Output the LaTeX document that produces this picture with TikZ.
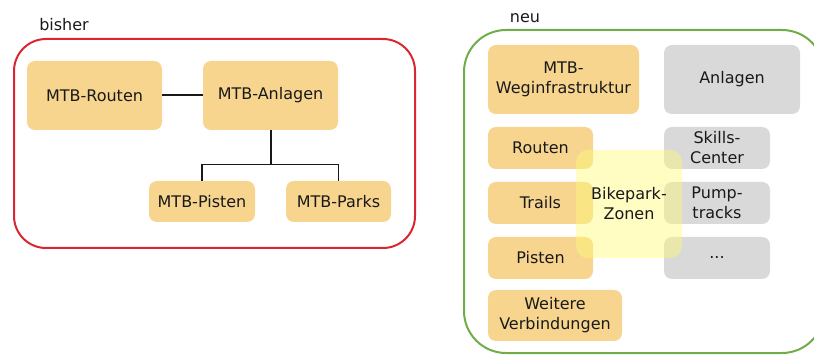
\documentclass[tikz,border=0pt]{standalone}
\usepackage{fontspec}
\setmainfont{DejaVu Sans}
\usepackage{tikz}

\definecolor{boxorange}{RGB}{247,213,143}
\definecolor{boxgray}{RGB}{217,217,217}
\definecolor{zoneyellow}{RGB}{255,250,120}
\definecolor{framered}{RGB}{218,38,48}
\definecolor{framegreen}{RGB}{112,173,71}
\definecolor{txt}{RGB}{25,25,25}

\begin{document}
\begin{tikzpicture}[x=1pt,y=-1pt]
    \tikzstyle{every node}+=[inner sep=0pt, text=txt, align=center, font=\fontsize{16}{20}\selectfont]
    \tikzstyle{orangebox}=[fill=boxorange, rounded corners=8pt]
    \tikzstyle{graybox}=[fill=boxgray, rounded corners=8pt]
    \tikzstyle{frame}=[line width=2pt, rounded corners=32pt]
    \useasboundingbox (0,0) rectangle (814,355);
    \clip (0,0) rectangle (814,355);
    % bisher
    \node (lblbisher) at (64,25) {bisher};
    \draw [frame, framered] (14,39) rectangle (415,248);
    \node [orangebox, minimum width=135pt, minimum height=69pt] (routenA) at (94.5,95.5) {MTB-Routen};
    \node [orangebox, minimum width=135pt, minimum height=69pt] (anlagenA) at (270.5,95.5) {MTB-Anlagen};
    \node [orangebox, minimum width=106pt, minimum height=41pt] (pistenA) at (202,201.5) {MTB-Pisten};
    \node [orangebox, minimum width=105pt, minimum height=41pt] (parksA) at (338.5,201.5) {MTB-Parks};
    \draw [line width=2pt, txt] (routenA) -- (anlagenA);
    \draw [line width=2pt, txt] (anlagenA.south) -- ++(0,34) coordinate (fork);
    \draw [line width=1.2pt, txt] (pistenA.north) |- (fork) -| (parksA.north);
    % neu
    \node (lblneu) at (525,18) {neu};
    \draw [frame, framegreen, rounded corners=42pt] (464,30) rectangle (824,353);
    \node [orangebox, minimum width=151pt, minimum height=69pt] (wegN) at (563.5,79.5) {MTB-\\Weginfrastruktur};
    \node [graybox, minimum width=136pt, minimum height=69pt] (anlagenN) at (732,79.5) {Anlagen};
    \node [orangebox, minimum width=105pt, minimum height=42pt] (routenN) at (540.5,148) {Routen};
    \node [orangebox, minimum width=105pt, minimum height=42pt] (trailsN) at (540.5,203) {Trails};
    \node [orangebox, minimum width=105pt, minimum height=42pt] (pistenN) at (540.5,258) {Pisten};
    \node [orangebox, minimum width=134pt, minimum height=51pt] (weitereN) at (555,315.5) {Weitere\\Verbindungen};
    \node [graybox, minimum width=106pt, minimum height=42pt] (skillsN) at (717,148) {Skills-\\Center};
    \node [graybox, minimum width=106pt, minimum height=42pt] (pumpN) at (717,203) {Pump-\\tracks};
    \node [graybox, minimum width=106pt, minimum height=42pt] (dotsN) at (717,258) {...};
    \node [fill=zoneyellow, fill opacity=0.45, text opacity=1, rounded corners=12pt, minimum width=106pt, minimum height=108pt] (zonenN) at (629,204) {Bikepark-\\Zonen};
\end{tikzpicture}
\end{document}
